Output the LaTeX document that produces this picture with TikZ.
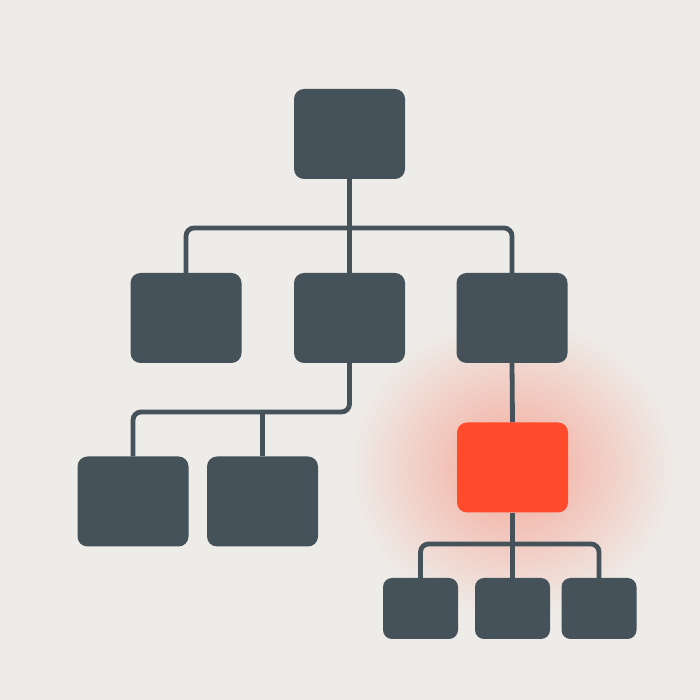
\documentclass[tikz,border=0pt]{standalone}
\usetikzlibrary{calc}
\definecolor{bgc}{HTML}{EEECE8}
\definecolor{dark}{HTML}{46525A}
\definecolor{hot}{HTML}{FF4A2C}
\pgfdeclarelayer{glowlayer}
\pgfdeclarelayer{connlayer}
\pgfsetlayers{glowlayer,connlayer,main}
\tikzset{
  box/.style={rectangle, rounded corners=10pt, fill=dark, inner sep=0pt, minimum width=111pt, minimum height=90pt},
  smallbox/.style={box, minimum width=75pt, minimum height=61pt, rounded corners=9pt},
  hotbox/.style={box, fill=hot},
  conn/.style={draw=dark, line width=4.8pt, rounded corners=8pt}
}
\begin{document}
\begin{tikzpicture}[x=1pt,y=1pt]
\useasboundingbox (0,0) rectangle (700,700);
\node[box] (top) at (349.5,566) {};
\node[box] (l2a) at (186,382) {};
\node[box] (l2b) at (349.5,382) {};
\node[box] (l2c) at (512,382) {};
\node[box] (l3a) at (133,198.5) {};
\node[box] (l3b) at (262.5,198.5) {};
\node[hotbox] (red) at (512.5,232.5) {};
\node[smallbox] (s1) at (420.5,91.5) {};
\node[smallbox] (s2) at (512.5,91.5) {};
\node[smallbox] (s3) at (599,91.5) {};
\coordinate (busA) at (349.5,472);
\coordinate (busB) at (262.5,288);
\coordinate (busC) at (512.5,156);
\begin{pgfonlayer}{glowlayer}
\fill[bgc] (0,0) rectangle (700,700);
\shade[inner color=hot!42!bgc, outer color=bgc] (red.center) ellipse (165pt and 152pt);
\end{pgfonlayer}
\begin{pgfonlayer}{connlayer}
\draw[conn] (top.south) -- (l2b.north);
\draw[conn] (l2a.north) |- (busA) -| (l2c.north);
\draw[conn] (l2b.south) |- (busB) -| (l3a.north);
\draw[conn] (l3b.north) -- (busB);
\draw[conn] (l2c.south) -- (red.north);
\draw[conn] (red.south) -- (s2.north);
\draw[conn] (s1.north) |- (busC) -| (s3.north);
\end{pgfonlayer}
\end{tikzpicture}
\end{document}
